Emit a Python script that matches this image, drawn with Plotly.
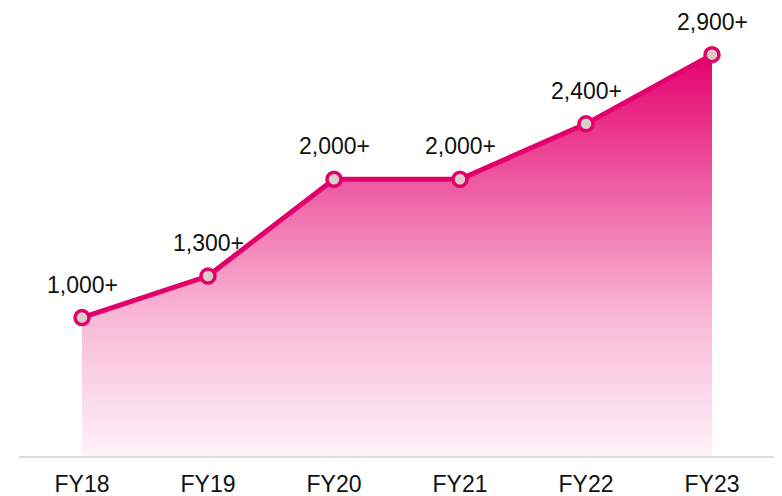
import plotly.graph_objects as go

categories = ["FY18", "FY19", "FY20", "FY21", "FY22", "FY23"]
values = [1000, 1300, 2000, 2000, 2400, 2900]
labels = ["1,000+", "1,300+", "2,000+", "2,000+", "2,400+", "2,900+"]

FONT = "Liberation Sans, Arial, sans-serif"

fig = go.Figure()
fig.add_trace(go.Scatter(
    x=categories, y=values,
    mode="lines+markers",
    line=dict(color="#e2006c", width=5),
    marker=dict(size=14, color="#d8d0c4", line=dict(color="#e2006c", width=3.5)),
    fill="tozeroy",
    fillgradient=dict(type="vertical",
                      colorscale=[[0, "rgba(255,242,248,1)"], [0.35, "rgba(249,184,214,1)"], [1, "rgba(228,0,110,1)"]]),
    cliponaxis=False,
    hoverinfo="skip",
))

for c, v, t in zip(categories, values, labels):
    fig.add_annotation(x=c, y=v, text=t, showarrow=False, yanchor="middle", yshift=33,
                       font=dict(family=FONT, size=23, color="#111111"))

fig.update_layout(
    width=770, height=488,
    margin=dict(l=11, r=3, t=4, b=40, autoexpand=False),
    paper_bgcolor="white", plot_bgcolor="white",
    showlegend=False,
    xaxis=dict(range=[-0.5, 5.5], showgrid=False, zeroline=False, automargin=False,
               showline=True, linecolor="#dcdcdc", linewidth=2,
               ticks="", ticklabelstandoff=6,
               tickfont=dict(family=FONT, size=23, color="#111111"),
               fixedrange=True),
    yaxis=dict(range=[0, 3208], visible=False, fixedrange=True, automargin=False),
)

fig.write_html("out.html")
